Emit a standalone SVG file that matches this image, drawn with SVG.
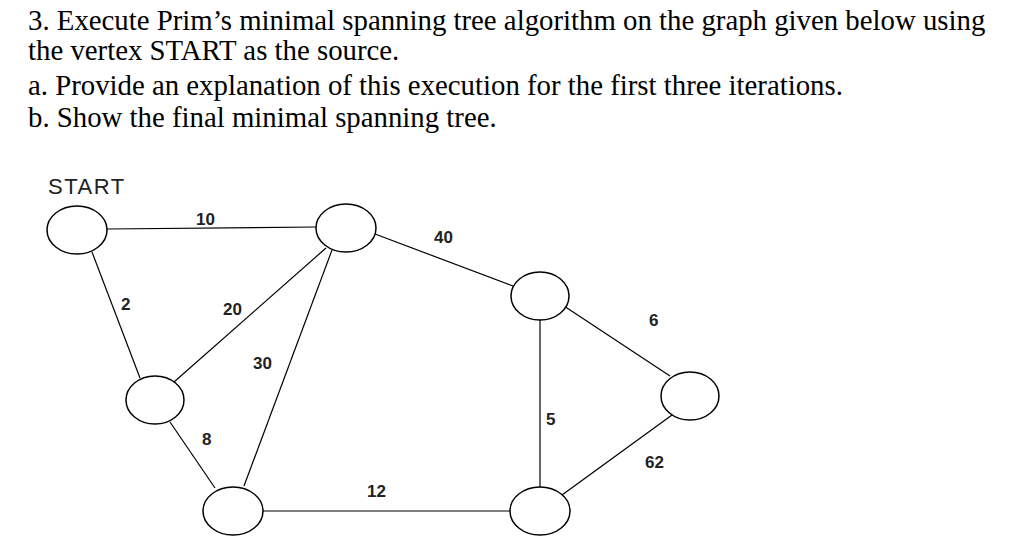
<svg xmlns="http://www.w3.org/2000/svg" width="1024" height="546" viewBox="0 0 1024 546">
<style>
.t{font-family:"Liberation Serif",serif;font-size:28.8px;fill:#000}
.n{fill:#fff;stroke:#000;stroke-width:1.5}
.e{stroke:#000;stroke-width:1.2;fill:none}
.l{font-family:"Liberation Sans",Arial,sans-serif;font-size:17px;font-weight:bold;fill:#222}
</style>
<rect width="1024" height="546" fill="#fff"/>
<text class="t" x="28" y="30">3. Execute Prim’s minimal spanning tree algorithm on the graph given below using</text>
<text class="t" x="28" y="60">the vertex START as the source.</text>
<text class="t" x="28" y="95">a. Provide an explanation of this execution for the first three iterations.</text>
<text class="t" x="28" y="127">b. Show the final minimal spanning tree.</text>
<text x="48" y="194" style="font-family:'Liberation Sans',Arial,sans-serif;font-size:22px;letter-spacing:1.5px;fill:#222">START</text>
<g id="connectors">
<line class="e" x1="107" y1="229" x2="316" y2="227"/>
<line class="e" x1="92" y1="252" x2="140" y2="378"/>
<line class="e" x1="326" y1="248" x2="174" y2="382"/>
<line class="e" x1="332" y1="250" x2="244" y2="486"/>
<line class="e" x1="375" y1="234" x2="513" y2="286"/>
<line class="e" x1="564" y1="306" x2="670" y2="376"/>
<line class="e" x1="540" y1="320" x2="540" y2="487"/>
<line class="e" x1="170" y1="422" x2="215" y2="488"/>
<line class="e" x1="263" y1="511" x2="510" y2="511"/>
<line class="e" x1="562" y1="495" x2="672" y2="415"/>
<text class="l" x="196" y="225">10</text>
<text class="l" x="121" y="310">2</text>
<text class="l" x="223" y="315">20</text>
<text class="l" x="253" y="369">30</text>
<text class="l" x="434" y="243">40</text>
<text class="l" x="649" y="326">6</text>
<text class="l" x="546" y="425">5</text>
<text class="l" x="202" y="445">8</text>
<text class="l" x="367" y="497">12</text>
<text class="l" x="645" y="468">62</text>
</g>
<g id="n-start"><ellipse class="n" cx="77" cy="230" rx="30" ry="24"/></g>
<g id="n-top"><ellipse class="n" cx="346" cy="228" rx="30" ry="24"/></g>
<g id="n-rmid"><ellipse class="n" cx="540" cy="296" rx="29" ry="24"/></g>
<g id="n-far"><ellipse class="n" cx="690" cy="396" rx="29" ry="24"/></g>
<g id="n-lmid"><ellipse class="n" cx="155" cy="400" rx="29" ry="24"/></g>
<g id="n-bl"><ellipse class="n" cx="233" cy="511" rx="30" ry="24"/></g>
<g id="n-br"><ellipse class="n" cx="540" cy="511" rx="30" ry="24"/></g>
</svg>
